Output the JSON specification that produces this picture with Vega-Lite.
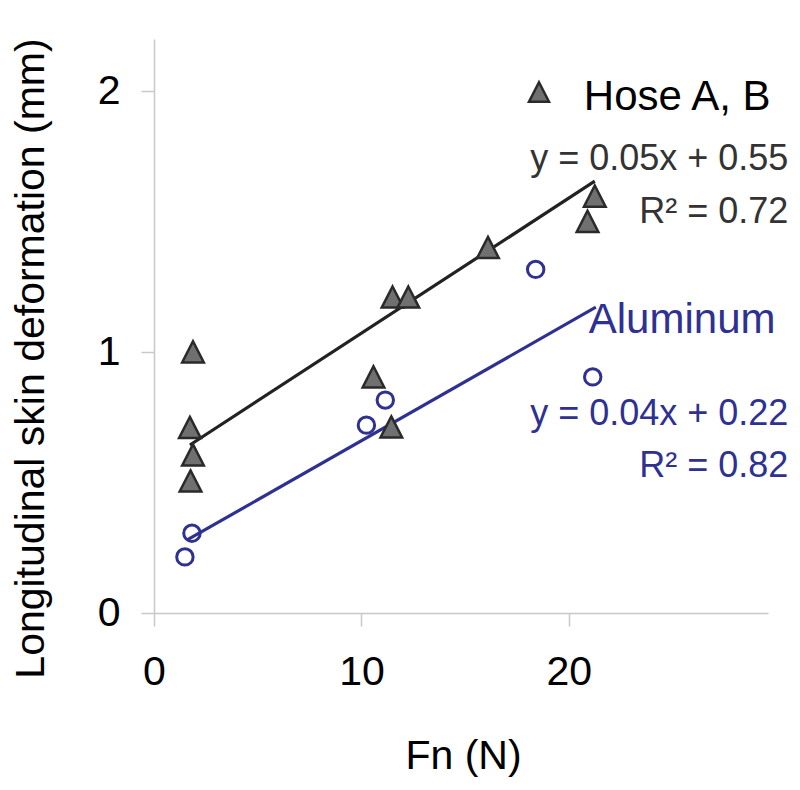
{
  "$schema": "https://vega.github.io/schema/vega-lite/v6.json",
  "width": 614,
  "height": 574,
  "autosize": {"type": "none"},
  "padding": {"left": 154, "top": 39, "right": 32, "bottom": 177},
  "background": "white",
  "config": {
    "view": {"stroke": null},
    "font": "Liberation Sans",
    "axis": {
      "grid": false,
      "domainColor": "#c8c8c8",
      "domainWidth": 1.5,
      "tickColor": "#c8c8c8",
      "tickWidth": 1.5,
      "tickSize": 13,
      "labelFlush": false,
      "labelFont": "Liberation Sans",
      "labelFontSize": 41,
      "labelColor": "#000000",
      "titleFont": "Liberation Sans",
      "titleFontSize": 41,
      "titleFontWeight": "normal",
      "titleColor": "#000000"
    }
  },
  "datasets": {
    "hose": [
      {"fn": 1.88, "def": 1.0},
      {"fn": 1.73, "def": 0.71},
      {"fn": 1.88, "def": 0.605},
      {"fn": 1.76, "def": 0.505},
      {"fn": 10.58, "def": 0.904},
      {"fn": 11.44, "def": 0.712},
      {"fn": 11.5, "def": 1.21},
      {"fn": 12.26, "def": 1.21},
      {"fn": 16.1, "def": 1.4},
      {"fn": 20.9, "def": 1.5},
      {"fn": 21.25, "def": 1.597}
    ],
    "alu": [
      {"fn": 1.49, "def": 0.215},
      {"fn": 1.83, "def": 0.306},
      {"fn": 10.24, "def": 0.72},
      {"fn": 11.15, "def": 0.816},
      {"fn": 18.4, "def": 1.317},
      {"fn": 21.15, "def": 0.905}
    ],
    "trend": [
      {"series": "Hose A, B", "fn": 1.73, "def": 0.644},
      {"series": "Hose A, B", "fn": 21.25, "def": 1.655},
      {"series": "Aluminum", "fn": 1.6, "def": 0.28},
      {"series": "Aluminum", "fn": 21.3, "def": 1.172}
    ]
  },
  "layer": [
    {
      "data": {"name": "trend"},
      "mark": {"type": "line", "strokeWidth": 3.2, "clip": false},
      "encoding": {
        "x": {"field": "fn", "type": "quantitative", "scale": {"domain": [0, 29.6], "nice": false}, "axis": {"values": [0, 10, 20], "format": "d", "title": "Fn (N)", "labelPadding": 26, "titleX": 309, "titleY": 155, "titleBaseline": "alphabetic", "titleAnchor": "middle"}},
        "y": {"field": "def", "type": "quantitative", "scale": {"domain": [0, 2.2], "nice": false}, "axis": {"values": [0, 1, 2], "format": "d", "title": "Longitudinal skin deformation (mm)", "labelPadding": 21, "titleX": -111, "titleY": 319, "titleAngle": 270, "titleBaseline": "alphabetic", "titleAlign": "center"}},
        "color": {"field": "series", "type": "nominal", "scale": {"domain": ["Hose A, B", "Aluminum"], "range": ["#222222", "#2E3192"]}, "legend": null},
        "detail": {"field": "series"}
      }
    },
    {
      "data": {"name": "hose"},
      "mark": {"type": "point", "shape": "M0,-1L1,0.95L-1,0.95Z", "size": 470, "filled": true, "fill": "#707070", "stroke": "#2a2a2a", "strokeWidth": 2.5, "opacity": 1, "clip": false},
      "encoding": {
        "x": {"field": "fn", "type": "quantitative"},
        "y": {"field": "def", "type": "quantitative"}
      }
    },
    {
      "data": {"name": "alu"},
      "mark": {"type": "point", "shape": "circle", "size": 270, "filled": false, "stroke": "#2E3192", "strokeWidth": 3, "opacity": 1, "clip": false},
      "encoding": {
        "x": {"field": "fn", "type": "quantitative"},
        "y": {"field": "def", "type": "quantitative"}
      }
    },
    {
      "data": {"values": [{"fn": 18.56, "def": 1.996}]},
      "mark": {"type": "point", "shape": "M0,-1L1,0.95L-1,0.95Z", "size": 400, "filled": true, "fill": "#707070", "stroke": "#2a2a2a", "strokeWidth": 2.5, "opacity": 1, "clip": false},
      "encoding": {
        "x": {"field": "fn", "type": "quantitative"},
        "y": {"field": "def", "type": "quantitative"}
      }
    },
    {
      "data": {"values": [{"fn": 20.72, "def": 1.977, "label": "Hose A, B"}]},
      "mark": {"type": "text", "align": "left", "baseline": "middle", "fontSize": 42, "color": "#000000", "font": "Liberation Sans"},
      "encoding": {
        "x": {"field": "fn", "type": "quantitative"},
        "y": {"field": "def", "type": "quantitative"},
        "text": {"field": "label"}
      }
    },
    {
      "data": {"values": [
        {"fn": 30.58, "def": 1.697, "label": "y = 0.05x + 0.55"},
        {"fn": 30.58, "def": 1.494, "label": "R² = 0.72"}
      ]},
      "mark": {"type": "text", "align": "right", "baseline": "alphabetic", "fontSize": 36, "color": "#333333", "font": "Liberation Sans"},
      "encoding": {
        "x": {"field": "fn", "type": "quantitative"},
        "y": {"field": "def", "type": "quantitative"},
        "text": {"field": "label"}
      }
    },
    {
      "data": {"values": [{"fn": 20.96, "def": 1.073, "label": "Aluminum"}]},
      "mark": {"type": "text", "align": "left", "baseline": "alphabetic", "fontSize": 42, "color": "#2E3192", "font": "Liberation Sans"},
      "encoding": {
        "x": {"field": "fn", "type": "quantitative"},
        "y": {"field": "def", "type": "quantitative"},
        "text": {"field": "label"}
      }
    },
    {
      "data": {"values": [
        {"fn": 30.58, "def": 0.72, "label": "y = 0.04x + 0.22"},
        {"fn": 30.58, "def": 0.521, "label": "R² = 0.82"}
      ]},
      "mark": {"type": "text", "align": "right", "baseline": "alphabetic", "fontSize": 36, "color": "#2E3192", "font": "Liberation Sans"},
      "encoding": {
        "x": {"field": "fn", "type": "quantitative"},
        "y": {"field": "def", "type": "quantitative"},
        "text": {"field": "label"}
      }
    }
  ]
}
